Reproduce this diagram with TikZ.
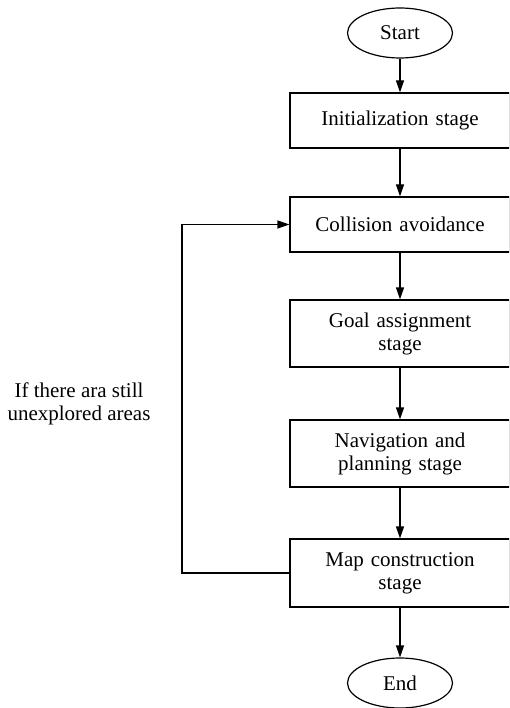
\documentclass[tikz,border=0pt]{standalone}
\usepackage{fontspec}
\setmainfont{Liberation Serif}
\usetikzlibrary{shapes.geometric,arrows.meta}
\begin{document}
\begin{tikzpicture}[x=1pt,y=-1pt,
  every node/.style={font=\fontsize{21}{23}\selectfont},
  stagebox/.style={draw, line width=1.2pt, minimum width=220pt, inner sep=0pt, align=center, text width=205pt},
  term/.style={draw, ellipse, line width=1.2pt, minimum width=105pt, minimum height=50pt, inner sep=0pt},
  flow/.style={line width=1.2pt, -{Triangle[length=12pt,width=8pt]}}]
\useasboundingbox (0,0) rectangle (509,708);
\clip (0,0) rectangle (509,708);
\node[term] (start) at (400,33) {Start};
\node[stagebox, minimum height=55pt] (init) at (400,120.5) {Initialization stage};
\node[stagebox, minimum height=55pt] (coll) at (400,224.5) {Collision avoidance};
\node[stagebox, minimum height=67pt] (goal) at (400,333.5) {Goal assignment\\stage};
\node[stagebox, minimum height=67pt] (nav) at (400,453.5) {Navigation and\\planning stage};
\node[stagebox, minimum height=68pt] (map) at (400,573) {Map construction\\stage};
\node[term] (end) at (400,683) {End};
\node[align=center] (lbl) at (79,404) {If there ara still\\unexplored areas};
\coordinate (c1) at (182,573);
\coordinate (c2) at (182,224.5);
\draw[flow] (start) -- (init);
\draw[flow] (init) -- (coll);
\draw[flow] (coll) -- (goal);
\draw[flow] (goal) -- (nav);
\draw[flow] (nav) -- (map);
\draw[flow] (map) -- (end);
\draw[flow] (map.west) -- (c1) -- (c2) -- (coll.west);
\end{tikzpicture}
\end{document}
